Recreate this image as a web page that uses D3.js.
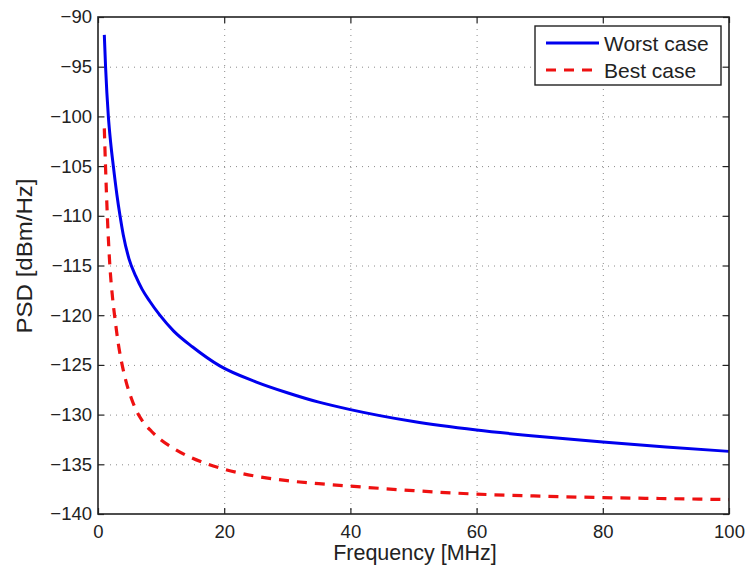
<!DOCTYPE html>
<html>
<head>
<meta charset="utf-8">
<script src="https://cdn.jsdelivr.net/npm/d3@7"></script>
<style>
  body { margin: 0; background: #fff; }
  svg { display: block; font-family: "Liberation Sans", Arial, Helvetica, sans-serif; }
</style>
</head>
<body>
<svg id="chart" width="748" height="570"></svg>
<script>
// ---- data ----
const xTicks = [0, 20, 40, 60, 80, 100];
const yTicks = [-140, -135, -130, -125, -120, -115, -110, -105, -100, -95, -90];

const worstFreq = [1, 1.2, 1.64, 2, 2.43, 3, 3.49, 4, 4.9, 6, 7, 8.2, 9.8, 12, 15, 19.3, 25, 30, 35, 40, 50, 60, 70, 80, 90, 100];
const worstPSD  = [-91.8, -95, -100, -102.6, -105, -107.9, -110, -111.9, -114.3, -116.1, -117.4, -118.6, -120, -121.6, -123.2, -125.1, -126.7, -127.8, -128.75, -129.5, -130.7, -131.55, -132.2, -132.75, -133.25, -133.7];

const bestFreq = [1, 1.2, 1.5, 1.9, 2.3, 2.7, 3.2, 3.86, 4.5, 5.2, 6, 7, 8.5, 10, 12, 14, 17, 20, 25, 30, 35, 40, 50, 60, 70, 80, 90, 100];
const bestPSD  = [-101.2, -105.2, -110.3, -115.2, -118.2, -120.4, -122.8, -125.1, -126.8, -128.2, -129.5, -130.6, -131.7, -132.55, -133.4, -134.1, -134.9, -135.5, -136.2, -136.65, -136.95, -137.2, -137.65, -138.0, -138.2, -138.35, -138.45, -138.55];

const seriesNames = ["Worst case", "Best case"];
const xLabel = "Frequency [MHz]";
const yLabel = "PSD [dBm/Hz]";

// ---- layout ----
const svg = d3.select("#chart");
const L = 98, T = 17, W = 631, H = 497;

const x = d3.scaleLinear().domain([0, 100]).range([L, L + W]);
const y = d3.scaleLinear().domain([-140, -90]).range([T + H, T]);

// grid
const grid = svg.append("g").attr("stroke", "#8a8a8a").attr("stroke-width", 1).attr("stroke-dasharray", "1,5");
grid.selectAll("line.v").data(xTicks.slice(1, -1)).join("line")
  .attr("x1", d => x(d) + 0.5).attr("x2", d => x(d) + 0.5)
  .attr("y1", T).attr("y2", T + H);
grid.selectAll("line.h").data(yTicks.slice(1, -1)).join("line")
  .attr("x1", L).attr("x2", L + W)
  .attr("y1", d => y(d) + 0.5).attr("y2", d => y(d) + 0.5);

// lines
const line = d3.line().x(d => x(d[0])).y(d => y(d[1])).curve(d3.curveMonotoneX);
const worst = worstFreq.map((f, i) => [f, worstPSD[i]]);
const best = bestFreq.map((f, i) => [f, bestPSD[i]]);

svg.append("path").datum(worst).attr("d", line)
  .attr("fill", "none").attr("stroke", "#0000ee").attr("stroke-width", 3);
svg.append("path").datum(best).attr("d", line)
  .attr("fill", "none").attr("stroke", "#ee1111").attr("stroke-width", 3.2)
  .attr("stroke-dasharray", "10,8");

// axes (inside ticks)
const fmt = d => d < 0 ? "\u2212" + Math.abs(d) : String(d);
const styleAxis = g => {
  g.select(".domain").remove();
  g.selectAll(".tick line").attr("stroke", "#222").attr("stroke-width", 1.2);
  g.selectAll(".tick text").attr("fill", "#222").attr("font-size", 18.5);
};
svg.append("g").attr("transform", `translate(${L},0)`)
  .call(d3.axisLeft(y).tickValues(yTicks).tickFormat(fmt).tickSize(-6).tickPadding(6))
  .call(styleAxis).attr("font-family", null);
svg.append("g").attr("transform", `translate(${L + W},0)`)
  .call(d3.axisRight(y).tickValues(yTicks).tickFormat("").tickSize(-6))
  .call(styleAxis);
svg.append("g").attr("transform", `translate(0,${T + H})`)
  .call(d3.axisBottom(x).tickValues(xTicks).tickFormat(fmt).tickSize(-6).tickPadding(11))
  .call(styleAxis).attr("font-family", null);
svg.append("g").attr("transform", `translate(0,${T})`)
  .call(d3.axisTop(x).tickValues(xTicks).tickFormat("").tickSize(-6))
  .call(styleAxis);

// frame
svg.append("rect").attr("x", L).attr("y", T).attr("width", W).attr("height", H)
  .attr("fill", "none").attr("stroke", "#222").attr("stroke-width", 1.6);

// axis labels
svg.append("text").attr("x", 415).attr("y", 560).attr("text-anchor", "middle")
  .attr("font-size", 21.5).attr("fill", "#222").text(xLabel);
svg.append("text").attr("transform", "translate(32,256) rotate(-90)").attr("text-anchor", "middle")
  .attr("font-size", 21.5).attr("textLength", 155).attr("lengthAdjust", "spacingAndGlyphs")
  .attr("fill", "#222").text(yLabel);

// legend
const lg = svg.append("g");
lg.append("rect").attr("x", 535).attr("y", 26).attr("width", 186).attr("height", 59)
  .attr("fill", "#fff").attr("stroke", "#222").attr("stroke-width", 1.4);
const rows = [
  { name: seriesNames[0], color: "#0000ee", dash: null, cy: 43 },
  { name: seriesNames[1], color: "#ee1111", dash: "10,8", cy: 70 }
];
rows.forEach(r => {
  lg.append("line").attr("x1", 546).attr("x2", 599).attr("y1", r.cy).attr("y2", r.cy)
    .attr("stroke", r.color).attr("stroke-width", 3).attr("stroke-dasharray", r.dash);
  lg.append("text").attr("x", 604).attr("y", r.cy + 7.5).attr("font-size", 21)
    .attr("fill", "#222").text(r.name);
});
</script>
</body>
</html>
